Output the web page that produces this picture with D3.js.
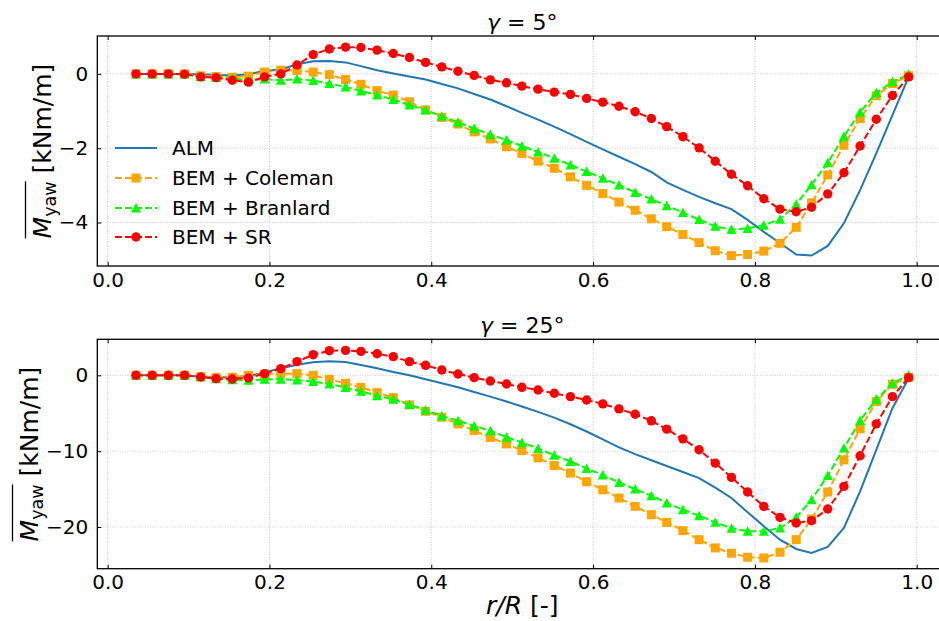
<!DOCTYPE html>
<html>
<head>
<meta charset="utf-8">
<script src="https://cdn.jsdelivr.net/npm/d3@7"></script>
<style>
    body { margin: 0; background: #ffffff; }
    svg text { font-family: "DejaVu Sans", sans-serif; fill: #000; }
</style>
</head>
<body>
<svg id="drawing_region"></svg>
<script>
// radial positions r/R (same grid for every series)
const r_R = [0.035, 0.055, 0.075, 0.095, 0.115, 0.134, 0.154, 0.174, 0.194, 0.214,
             0.234, 0.254, 0.274, 0.294, 0.313, 0.333, 0.353, 0.373, 0.393, 0.413,
             0.433, 0.453, 0.473, 0.493, 0.512, 0.532, 0.552, 0.572, 0.592, 0.612,
             0.632, 0.652, 0.672, 0.691, 0.711, 0.731, 0.751, 0.771, 0.791, 0.811,
             0.831, 0.851, 0.870, 0.890, 0.910, 0.930, 0.950, 0.970, 0.990];

// gamma = 5 deg
const alm_5 = [0, 0, 0, 0, -0.01, -0.03, -0.04, -0.01, 0.08, 0.12,
               0.26, 0.34, 0.35, 0.31, 0.21, 0.10, 0.01, -0.07, -0.15, -0.27,
               -0.39, -0.54, -0.69, -0.87, -1.05, -1.23, -1.42, -1.62, -1.83, -2.03,
               -2.23, -2.43, -2.64, -2.92, -3.12, -3.31, -3.48, -3.64, -3.93, -4.25,
               -4.55, -4.86, -4.89, -4.63, -4.02, -3.13, -2.14, -1.11, -0.08];
const coleman_5 = [0, 0, 0, 0, -0.05, -0.07, -0.09, -0.06, 0.05, 0.10,
                   0.09, 0.05, -0.02, -0.15, -0.28, -0.45, -0.57, -0.75, -0.97, -1.17,
                   -1.35, -1.56, -1.75, -1.96, -2.14, -2.35, -2.54, -2.77, -3.00, -3.22,
                   -3.45, -3.67, -3.90, -4.11, -4.32, -4.54, -4.76, -4.89, -4.86, -4.77,
                   -4.56, -4.13, -3.47, -2.72, -1.92, -1.20, -0.59, -0.26, -0.05];
const branlard_5 = [0, 0, 0, 0, -0.08, -0.10, -0.12, -0.17, -0.14, -0.17,
                    -0.14, -0.18, -0.26, -0.35, -0.46, -0.57, -0.69, -0.84, -0.97, -1.14,
                    -1.30, -1.47, -1.63, -1.78, -1.94, -2.10, -2.27, -2.45, -2.63, -2.81,
                    -2.99, -3.19, -3.37, -3.55, -3.73, -3.92, -4.10, -4.19, -4.16, -4.07,
                    -3.91, -3.51, -2.98, -2.39, -1.68, -1.03, -0.51, -0.21, -0.01];
const sr_5 = [0, 0, 0, -0.01, -0.08, -0.10, -0.17, -0.22, -0.08, 0.0,
              0.24, 0.52, 0.67, 0.72, 0.71, 0.64, 0.55, 0.44, 0.31, 0.19,
              0.07, -0.04, -0.16, -0.24, -0.33, -0.41, -0.49, -0.55, -0.66, -0.76,
              -0.87, -1.02, -1.20, -1.42, -1.69, -1.99, -2.35, -2.70, -3.01, -3.36,
              -3.64, -3.71, -3.59, -3.23, -2.66, -1.94, -1.22, -0.58, -0.08];

// gamma = 25 deg
const alm_25 = [0, 0, 0, 0, -0.2, -0.25, -0.3, -0.1, 0.39, 0.92,
                1.4, 1.71, 1.84, 1.75, 1.36, 0.92, 0.45, 0.0, -0.53, -1.05,
                -1.58, -2.2, -2.81, -3.45, -4.12, -4.82, -5.57, -6.45, -7.41, -8.45,
                -9.5, -10.4, -11.2, -11.95, -12.75, -13.55, -14.8, -16.18, -18.07, -19.9,
                -21.67, -22.9, -23.42, -22.63, -20.13, -15.3, -9.82, -4.34, -0.39];
const coleman_25 = [0, 0, 0, 0, -0.2, -0.3, -0.26, 0.0, 0.13, 0.22,
                    0.22, 0.0, -0.53, -1.05, -1.58, -2.28, -2.94, -3.9, -4.74, -5.53,
                    -6.4, -7.28, -8.2, -9.04, -9.91, -10.88, -11.89, -12.89, -14.04, -15.09,
                    -16.18, -17.28, -18.38, -19.39, -20.48, -21.67, -22.76, -23.46, -23.99, -24.08,
                    -23.33, -21.67, -18.95, -15.39, -11.14, -7.06, -3.46, -1.18, -0.26];
const branlard_25 = [0, 0, 0, 0, -0.2, -0.45, -0.6, -0.66, -0.53, -0.53,
                     -0.61, -0.83, -1.14, -1.62, -2.1, -2.68, -3.16, -3.86, -4.56, -5.35,
                     -6.0, -6.67, -7.32, -8.16, -8.86, -9.65, -10.53, -11.36, -12.28, -13.16,
                     -14.12, -15.0, -15.88, -16.84, -17.72, -18.51, -19.39, -20.18, -20.57, -20.57,
                     -20.13, -18.73, -16.4, -13.2, -9.6, -5.96, -3.16, -1.05, 0];
const sr_25 = [0, 0, 0, 0, -0.22, -0.44, -0.48, -0.35, 0.22, 0.88,
               1.80, 2.72, 3.25, 3.29, 3.16, 2.85, 2.46, 1.80, 1.32, 0.70,
               0.18, -0.31, -0.75, -1.14, -1.58, -1.93, -2.37, -2.81, -3.25, -3.77,
               -4.43, -5.13, -6.0, -7.1, -8.38, -9.82, -11.58, -13.46, -15.39, -17.28,
               -18.73, -19.47, -19.17, -17.63, -14.65, -10.61, -6.4, -2.81, -0.31];

const xticks = [0.0, 0.2, 0.4, 0.6, 0.8, 1.0];
const yticks_5 = [-4, -2, 0];
const yticks_25 = [-20, -10, 0];

const series_names = ["ALM", "BEM + Coleman", "BEM + Branlard", "BEM + SR"];
const series_colors = ["#1f77b4", "#ffa500", "#00ff00", "#ff0000"];
const series_markers = [null, "square", "triangle", "circle"];

const svg = d3.select('#drawing_region')
    .attr('width', 939)
    .attr('height', 621);

function markerPath(shape) {
    if (shape == "square") return "M-4.5,-4.5H4.5V4.5H-4.5Z";
    if (shape == "triangle") return "M0,-5L5,4.5L-5,4.5Z";
    return d3.symbol().type(d3.symbolCircle).size(Math.PI * 4.7 * 4.7)();
}

class YawPanel {

    constructor(config, series) {
        this.config = config;
        this.series = series;
        this.init();
    }

    init() {
        let self = this;
        let c = self.config;

        self.xscale = d3.scaleLinear()
            .domain([-0.0128, 1.0378])
            .range([97.3, 947.3]);

        self.yscale = d3.scaleLinear()
            .domain(c.ydomain)
            .range([c.bottom, c.top]);

        self.chart = svg.append('g');
    }

    render() {
        let self = this;
        let c = self.config;
        let x0 = self.xscale.range()[0], x1 = self.xscale.range()[1];

        // grid
        let grid = self.chart.append('g')
            .attr('stroke', '#b8b8b8')
            .attr('stroke-width', 0.8)
            .attr('stroke-dasharray', '1,1.5');
        grid.selectAll('.gx').data(xticks).enter().append('line')
            .attr('x1', d => self.xscale(d)).attr('x2', d => self.xscale(d))
            .attr('y1', c.top).attr('y2', c.bottom);
        grid.selectAll('.gy').data(c.yticks).enter().append('line')
            .attr('x1', x0).attr('x2', x1)
            .attr('y1', d => self.yscale(d)).attr('y2', d => self.yscale(d));

        // series
        const line = d3.line()
            .x((d, i) => self.xscale(r_R[i]))
            .y(d => self.yscale(d));

        self.series.forEach((vals, k) => {
            self.chart.append('path')
                .attr('d', line(vals))
                .attr('fill', 'none')
                .attr('stroke', series_colors[k])
                .attr('stroke-width', 2)
                .attr('stroke-dasharray', k == 0 ? null : '7,3');

            if (series_markers[k]) {
                self.chart.append('g').selectAll('path')
                    .data(vals)
                    .enter()
                    .append('path')
                    .attr('d', markerPath(series_markers[k]))
                    .attr('transform', (d, i) => `translate(${self.xscale(r_R[i])},${self.yscale(d)})`)
                    .attr('fill', series_colors[k]);
            }
        });

        // frame
        self.chart.append('rect')
            .attr('x', x0).attr('y', c.top)
            .attr('width', x1 - x0).attr('height', c.bottom - c.top)
            .attr('fill', 'none')
            .attr('stroke', '#000')
            .attr('stroke-width', 1.3);

        // axes (ticks inward)
        const xaxis = d3.axisBottom(self.xscale)
            .tickValues(xticks)
            .tickFormat(d3.format('.1f'))
            .tickSizeInner(-4).tickSizeOuter(0)
            .tickPadding(6.5);
        const xaxis_top = d3.axisTop(self.xscale)
            .tickValues(xticks).tickFormat('')
            .tickSizeInner(-4).tickSizeOuter(0);
        const yaxis = d3.axisLeft(self.yscale)
            .tickValues(c.yticks)
            .tickFormat(d3.format('d'))
            .tickSizeInner(-4).tickSizeOuter(0)
            .tickPadding(9);

        [self.chart.append('g').attr('transform', `translate(0,${c.bottom})`).call(xaxis),
         self.chart.append('g').attr('transform', `translate(0,${c.top})`).call(xaxis_top),
         self.chart.append('g').attr('transform', `translate(${x0},0)`).call(yaxis)]
            .forEach(g => {
                g.select('.domain').remove();
                g.selectAll('line').attr('stroke', '#000').attr('stroke-width', 1);
                g.selectAll('text').attr('font-size', '20px').attr('font-family', '"DejaVu Sans", sans-serif');
            });

        // title
        let title = self.chart.append('text')
            .attr('x', (x0 + x1) / 2)
            .attr('y', c.top - 6.5)
            .attr('text-anchor', 'middle')
            .attr('font-size', '22px');
        title.append('tspan').attr('font-style', 'italic').text('γ');
        title.append('tspan').text(' = ' + c.angle + '°');

        // y label
        let yl = self.chart.append('g')
            .attr('transform', `translate(${c.ylabel_x},${(c.top + c.bottom) / 2}) rotate(-90)`);
        let ytext = yl.append('text')
            .attr('text-anchor', 'middle')
            .attr('font-size', '25px');
        ytext.append('tspan').attr('font-style', 'italic').text('M');
        ytext.append('tspan').attr('font-size', '17.5px').attr('dy', 5).text('yaw');
        ytext.append('tspan').attr('dy', -5).text(' [kNm/m]');
        let a = ytext.node().getExtentOfChar(0);
        let b = ytext.node().getExtentOfChar(3);
        yl.append('line')
            .attr('x1', a.x).attr('x2', b.x + b.width)
            .attr('y1', -25.5).attr('y2', -25.5)
            .attr('stroke', '#000').attr('stroke-width', 1.3);

        if (c.legend) self.legend();
        if (c.xlabel) {
            let xl = self.chart.append('text')
                .attr('x', (x0 + x1) / 2)
                .attr('y', 614)
                .attr('text-anchor', 'middle')
                .attr('font-size', '25px');
            xl.append('tspan').attr('font-style', 'italic').text('r/R');
            xl.append('tspan').text(' [-]');
        }
    }

    legend() {
        let self = this;
        let rows = [148, 178, 208, 237];
        series_names.forEach((name, k) => {
            let g = self.chart.append('g').attr('transform', `translate(0,${rows[k]})`);
            g.append('line')
                .attr('x1', 115).attr('x2', 157)
                .attr('stroke', series_colors[k])
                .attr('stroke-width', 2)
                .attr('stroke-dasharray', k == 0 ? null : '7,3');
            if (series_markers[k]) {
                g.append('path')
                    .attr('d', markerPath(series_markers[k]))
                    .attr('transform', 'translate(136,0)')
                    .attr('fill', series_colors[k]);
            }
            g.append('text')
                .attr('x', 172)
                .attr('dy', '0.35em')
                .attr('font-size', '20px')
                .text(name);
        });
    }
}

const top_panel = new YawPanel({
    top: 36, bottom: 266,
    ydomain: [-5.17, 1.02],
    yticks: yticks_5,
    angle: 5,
    ylabel_x: 51,
    legend: true,
}, [alm_5, coleman_5, branlard_5, sr_5]);
top_panel.render();

const bottom_panel = new YawPanel({
    top: 339.3, bottom: 568.7,
    ydomain: [-25.5, 4.75],
    yticks: yticks_25,
    angle: 25,
    ylabel_x: 38,
    xlabel: true,
}, [alm_25, coleman_25, branlard_25, sr_25]);
bottom_panel.render();
</script>
</body>
</html>
